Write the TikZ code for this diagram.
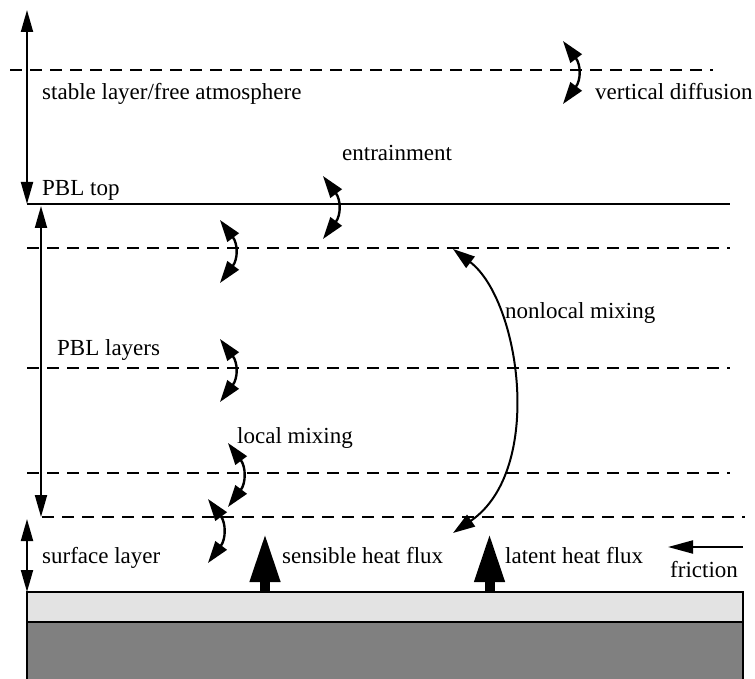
\documentclass[tikz,border=0pt]{standalone}
\usepackage{fontspec}
\setmainfont{Liberation Serif}
\usetikzlibrary{arrows.meta}
\begin{document}
\begin{tikzpicture}[x=1pt,y=-1pt,
  lbl/.style={anchor=base west, inner sep=0pt, font=\fontsize{23}{27}\selectfont, text=black},
  dline/.style={line width=2.4pt, dash pattern=on 12pt off 8pt},
  sline/.style={line width=2.4pt},
  span/.style={line width=2pt, {Triangle[length=22pt,width=12pt]}-{Triangle[length=22pt,width=12pt]}},
  mix/.style={line width=2.4pt, {Triangle[length=22pt,width=14pt]}-{Triangle[length=22pt,width=14pt]}},
  bigmix/.style={line width=2pt, {Triangle[length=22pt,width=14pt]}-{Triangle[length=22pt,width=14pt]}},
  flux/.style={line width=10pt, -{Triangle[length=49pt,width=28pt]}},
  fric/.style={line width=2pt, -{Triangle[length=25pt,width=13pt]}},
]
\useasboundingbox (0,0) rectangle (755,679);
% ground
\filldraw[fill=black!50, draw=black, line width=1.5pt] (27,622) rectangle (743,700);
\filldraw[fill=black!11, draw=black, line width=1.5pt] (27,592) rectangle (743,622);
\coordinate (g1) at (265,592);
\coordinate (g2) at (489.5,592);
% level lines
\draw[dline] (10,70) -- (713,70);
\draw[sline] (27,204) -- (730,204);
\draw[dline] (27,248) -- (730,248);
\draw[dline] (27,368) -- (730,368);
\draw[dline] (27,473) -- (730,473);
\draw[dline] (42,517) -- (745,517);
% left span arrows
\coordinate (a1t) at (27,10);  \coordinate (a1b) at (27,204);
\coordinate (a2t) at (41,206); \coordinate (a2b) at (41,517);
\coordinate (a3t) at (27,519); \coordinate (a3b) at (27,592);
\draw[span] (a1t) -- (a1b);
\draw[span] (a2t) -- (a2b);
\draw[span] (a3t) -- (a3b);
% labels
\node[lbl] (stable) at (42,100) {stable layer/free atmosphere};
\node[lbl] (vdiff) at (595,100) {vertical diffusion};
\node[lbl] (entr) at (342,161) {entrainment};
\node[lbl] (pbltop) at (42,196) {PBL top};
\node[lbl] (pbllay) at (57,355) {PBL layers};
\node[lbl] (nonloc) at (505,318) {nonlocal mixing};
\node[lbl] (local) at (237,443) {local mixing};
\node[lbl] (surf) at (42,563) {surface layer};
\node[lbl] (sens) at (282,563) {sensible heat flux};
\node[lbl] (lat) at (505,563) {latent heat flux};
\node[lbl] (fr) at (670,577) {friction};
% small mixing arrows
\coordinate (vd1) at (563,41);  \coordinate (vd2) at (563,104);
\coordinate (en1) at (323,176); \coordinate (en2) at (323,239);
\coordinate (m11) at (220,220); \coordinate (m12) at (220,283);
\coordinate (m21) at (220,339); \coordinate (m22) at (220,402);
\coordinate (m31) at (228,443); \coordinate (m32) at (228,507);
\coordinate (m41) at (208,499); \coordinate (m42) at (208,563);
\draw[mix] (vd1) .. controls +(18,24) and +(18,-24) .. (vd2);
\draw[mix] (en1) .. controls +(18,24) and +(18,-24) .. (en2);
\draw[mix] (m11) .. controls +(18,24) and +(18,-24) .. (m12);
\draw[mix] (m21) .. controls +(18,24) and +(18,-24) .. (m22);
\draw[mix] (m31) .. controls +(18,24) and +(18,-24) .. (m32);
\draw[mix] (m41) .. controls +(18,24) and +(18,-24) .. (m42);
% nonlocal mixing
\coordinate (nl1) at (453,249); \coordinate (nl2) at (453,533);
\draw[bigmix] (nl1) .. controls (520,300) and (545,470) .. (nl2);
% heat fluxes
\coordinate (s1) at (265,533);
\coordinate (l1) at (489.5,533);
\draw[flux] (g1) -- (s1);
\draw[flux] (g2) -- (l1);
% friction
\coordinate (f0) at (743,547); \coordinate (f1) at (668,547);
\draw[fric] (f0) -- (f1);
\end{tikzpicture}
\end{document}
